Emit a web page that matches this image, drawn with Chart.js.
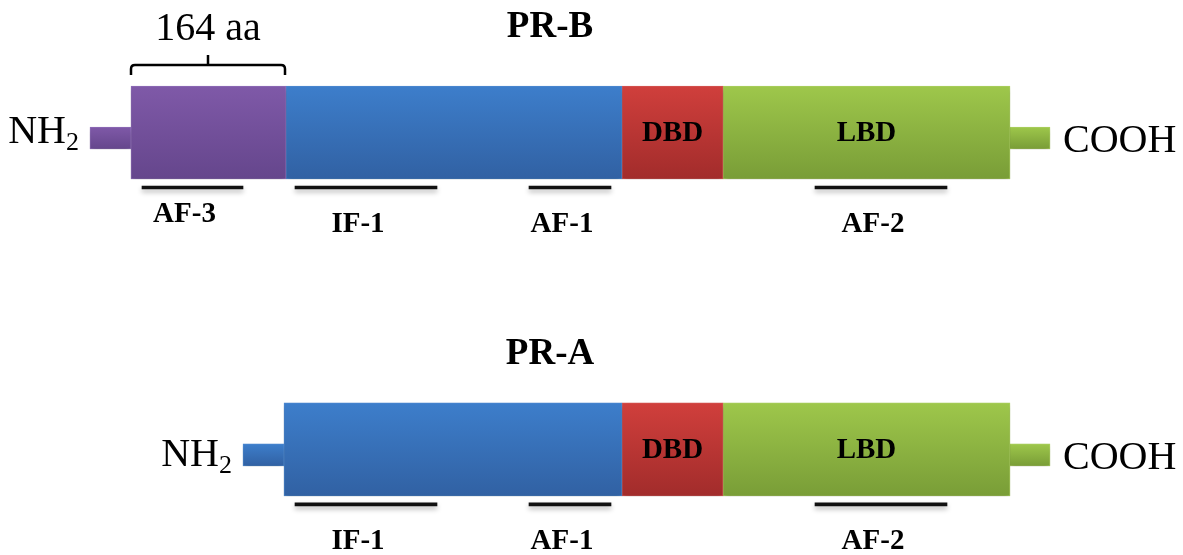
<!DOCTYPE html>
<html lang="en">
<head>
    <meta charset="UTF-8">
    <title>PR-B / PR-A domain structure</title>
    <script src="https://cdn.jsdelivr.net/npm/chart.js"></script>
    <style>
        body { margin: 0; background: #fff; }
        .chart-container { width: 1183px; height: 555px; position: relative; }
    </style>
</head>
<body>
    <div class="chart-container">
        <canvas id="prChart"></canvas>
    </div>
    <script>
        // isoforms, top to bottom
        const rows = ['PR-B', 'PR-A'];

        // domain extents along the schematic (drawing units, not to scale)
        const nStub     = [[90, 131], [243, 284]];
        const af3Domain = [[131, 286], null];
        const ntDomain  = [[286, 622], [284, 622]];
        const dbdDomain = [[622, 723], [622, 723]];
        const lbdDomain = [[723, 1010], [723, 1010]];
        const cStub     = [[1009, 1050], [1009, 1050]];
        const af3Length = 164;

        // functional motifs under the bars
        const motifNames = ['AF-3', 'IF-1', 'AF-1', 'AF-2', 'IF-1', 'AF-1', 'AF-2'];
        const motifRow   = [0, 0, 0, 0, 1, 1, 1];
        const motifStart = [142, 295, 529, 815, 295, 529, 815];
        const motifEnd   = [243, 437, 611, 947, 437, 611, 947];

        const titleX = 550;

        const SERIF = '"Liberation Serif", "Times New Roman", serif';
        const PX_PER_ROW = 317;
        const Y_MIN = -0.418, Y_MAX = 1.333;

        const colors = {
            purple: ['#7f59a8', '#65468c', '#8e6db8'],
            blue:   ['#3d7ecb', '#3161a3', '#4c89d2'],
            red:    ['#d03f3c', '#a22c2b', '#d65451'],
            green:  ['#9ec74b', '#799d37', '#acd15f']
        };
        const nStubColor = ['purple', 'blue'];

        function rowAxis(shiftPx) {
            const d = shiftPx / PX_PER_ROW;
            return { type: 'linear', reverse: true, offset: false, bounds: 'data',
                     min: Y_MIN - d, max: Y_MAX - d, display: false };
        }

        function toBars(list) {
            return list.map((v, i) => v ? { x: v, y: i } : null).filter(Boolean);
        }

        function shade(key, thick) {
            return (ctx) => {
                const chart = ctx.chart;
                const k = typeof key === 'function' ? key(ctx) : key;
                if (!chart.chartArea || !ctx.raw) return colors[k][0];
                const sc = chart.scales[ctx.dataset.yAxisID];
                const yc = sc.getPixelForValue(ctx.raw.y);
                const g = chart.ctx.createLinearGradient(0, yc - thick / 2, 0, yc + thick / 2);
                g.addColorStop(0, colors[k][0]);
                g.addColorStop(1, colors[k][1]);
                return g;
            };
        }

        function domainSet(label, list, key, thick, axis, inner) {
            return {
                label: label,
                data: toBars(list),
                yAxisID: axis,
                backgroundColor: shade(key, thick),
                borderColor: (ctx) => {
                    const k = typeof key === 'function' ? key(ctx) : key;
                    return colors[k][2];
                },
                borderWidth: 1,
                borderSkipped: false,
                barThickness: thick,
                grouped: false,
                inner: inner
            };
        }

        const stubKey = (ctx) => ctx.raw ? nStubColor[ctx.raw.y] : 'purple';

        const datasets = [
            domainSet('NH2 tail', nStub, stubKey, 22, 'yStub', false),
            domainSet('AF-3 region', af3Domain, 'purple', 93, 'y', false),
            domainSet('N-terminal domain', ntDomain, 'blue', 93, 'y', false),
            domainSet('DBD', dbdDomain, 'red', 93, 'y', true),
            domainSet('LBD', lbdDomain, 'green', 93, 'y', true),
            domainSet('COOH tail', cStub, 'green', 22, 'yStub', false),
            {
                label: 'motifs',
                data: motifNames.map((n, i) => ({ x: [motifStart[i], motifEnd[i]], y: motifRow[i] })),
                yAxisID: 'yMotif',
                backgroundColor: '#111',
                barThickness: 3,
                grouped: false
            }
        ];

        const TITLE_DY = [-95, -85];
        const NH_DY = [10.5, 17];

        const schematic = {
            id: 'schematic',
            beforeDatasetsDraw(chart) {
                const c = chart.ctx;
                c.save();
                c.shadowColor = 'rgba(0,0,0,0.28)';
                c.shadowBlur = 5;
                c.shadowOffsetY = 3;
            },
            afterDatasetsDraw(chart) {
                const c = chart.ctx;
                c.restore();
                const x = chart.scales.x, y = chart.scales.y;
                c.save();
                c.fillStyle = '#000';
                c.strokeStyle = '#000';
                c.textBaseline = 'alphabetic';

                rows.forEach((name, r) => {
                    const yc = y.getPixelForValue(r);

                    c.font = 'bold 37px ' + SERIF;
                    c.textAlign = 'center';
                    c.fillText(name, x.getPixelForValue(titleX), yc + TITLE_DY[r]);

                    // NH2 end
                    const nx = x.getPixelForValue(nStub[r][0]) - 11;
                    c.textAlign = 'right';
                    c.font = '26px ' + SERIF;
                    c.fillText('2', nx, yc + NH_DY[r] + 7);
                    const w2 = c.measureText('2').width;
                    c.font = '40px ' + SERIF;
                    c.fillText('NH', nx - w2, yc + NH_DY[r]);

                    // COOH end
                    c.textAlign = 'left';
                    c.fillText('COOH', x.getPixelForValue(cStub[r][1]) + 13, yc + 20);

                    // names inside domains
                    c.textAlign = 'center';
                    c.textBaseline = 'middle';
                    c.font = 'bold 29px ' + SERIF;
                    datasets.forEach(ds => {
                        if (!ds.inner) return;
                        const pt = ds.data.find(d => d.y === r);
                        if (!pt) return;
                        const cx = (x.getPixelForValue(pt.x[0]) + x.getPixelForValue(pt.x[1])) / 2;
                        c.fillText(ds.label, cx, yc + 1);
                    });
                    c.textBaseline = 'alphabetic';
                });

                // motif labels
                c.font = 'bold 29px ' + SERIF;
                c.textAlign = 'center';
                motifNames.forEach((n, i) => {
                    const yc = y.getPixelForValue(motifRow[i]);
                    const cx = (x.getPixelForValue(motifStart[i]) + x.getPixelForValue(motifEnd[i])) / 2 - 8;
                    c.fillText(n, cx, yc + (n === 'AF-3' ? 90 : 100));
                });

                // bracket over the AF-3 region
                af3Domain.forEach((d, r) => {
                    if (!d) return;
                    const top = y.getPixelForValue(r) - 93 / 2;
                    const x1 = x.getPixelForValue(d[0]), x2 = x.getPixelForValue(d[1]) - 1;
                    const xm = (x1 + x2) / 2;
                    const yb = top - 11, yh = top - 21, yt = top - 31;
                    c.lineWidth = 2.5;
                    c.lineJoin = 'round';
                    c.lineCap = 'butt';
                    c.beginPath();
                    c.moveTo(x1, yb);
                    c.lineTo(x1, yh + 4);
                    c.quadraticCurveTo(x1, yh, x1 + 4, yh);
                    c.lineTo(x2 - 4, yh);
                    c.quadraticCurveTo(x2, yh, x2, yh + 4);
                    c.lineTo(x2, yb);
                    c.moveTo(xm, yh);
                    c.lineTo(xm, yt);
                    c.stroke();
                    c.font = '40px ' + SERIF;
                    c.fillText(af3Length + ' aa', xm, top - 46);
                });
                c.restore();
            }
        };

        new Chart(document.getElementById('prChart').getContext('2d'), {
            type: 'bar',
            data: { datasets: datasets },
            options: {
                indexAxis: 'y',
                responsive: true,
                maintainAspectRatio: false,
                animation: false,
                layout: { padding: 0 },
                plugins: { legend: { display: false }, tooltip: { enabled: false } },
                scales: {
                    x: { type: 'linear', min: 0, max: 1183, display: false },
                    y: rowAxis(0),
                    yStub: rowAxis(5.5),
                    yMotif: rowAxis(55)
                }
            },
            plugins: [schematic]
        });
    </script>
</body>
</html>
